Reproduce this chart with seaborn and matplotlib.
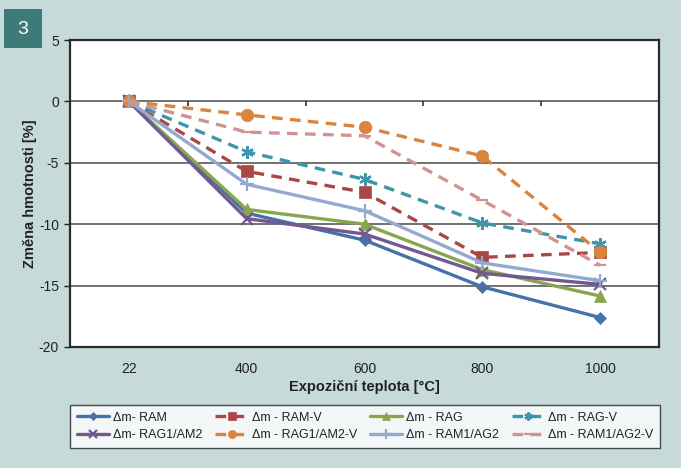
import matplotlib
matplotlib.use("Agg")
import matplotlib.pyplot as plt
from matplotlib.patches import Rectangle
import numpy as np
import pandas as pd
import seaborn as sns

categories = ["22", "400", "600", "800", "1000"]
series_names = ["Δm- RAM", "Δm - RAM-V", "Δm - RAG", "Δm - RAG-V",
                "Δm- RAG1/AM2", "Δm - RAG1/AM2-V", "Δm - RAM1/AG2", "Δm - RAM1/AG2-V"]
ram = [0, -9.1, -11.3, -15.1, -17.6]
ram_v = [0, -5.7, -7.4, -12.7, -12.3]
rag = [0, -8.8, -10.0, -13.7, -15.85]
rag_v = [0, -4.1, -6.35, -9.9, -11.6]
rag1am2 = [0, -9.55, -10.8, -14.0, -14.9]
rag1am2_v = [0, -1.1, -2.1, -4.45, -12.3]
ram1ag2 = [0, -6.75, -8.9, -13.15, -14.6]
ram1ag2_v = [0, -2.5, -2.8, -8.05, -13.35]
values = [ram, ram_v, rag, rag_v, rag1am2, rag1am2_v, ram1ag2, ram1ag2_v]
yticks = [-20, -15, -10, -5, 0, 5]

colors = ["#4572A7", "#AA4643", "#89A54E", "#3D96AE",
          "#71588F", "#DB843D", "#93A9CF", "#D19392"]
markers = ["D", "s", "^", (6, 2, 0), "x", "o", "+", "_"]
msizes = [6.5, 8, 8, 9, 8, 9, 10, 8]
dashed = [False, True, False, True, False, True, False, True]

sns.set_theme(style="white")
plt.rcParams["font.family"] = ["Liberation Sans", "DejaVu Sans"]

bg = "#C6DAD9"
fig = plt.figure(figsize=(6.81, 4.68), dpi=100, facecolor=bg)
ax = fig.add_axes([70/681, 1-347/468, 589/681, 307/468])
ax.set_facecolor("white")

pos = np.arange(len(categories))
handles = []
for name, vals, c, m, ms, d in zip(series_names, values, colors, markers, msizes, dashed):
    df = pd.DataFrame({"x": pos, "y": vals})
    sns.lineplot(data=df, x="x", y="y", ax=ax, color=c, marker=m, markersize=ms,
                 markeredgecolor=c, markerfacecolor=c,
                 markeredgewidth=1.6 if m in ["x", "+", "_", (6, 2, 0)] else 0.5,
                 linewidth=2.4, linestyle=(0, (3.2, 2.2)) if d else "-",
                 label=name, legend=False, zorder=3)
    handles.append(ax.lines[-1])

ax.set_xlim(-0.5, len(categories) - 0.5)
ax.set_ylim(yticks[0], yticks[-1])
ax.set_yticks(yticks)
ax.set_yticklabels([str(t) for t in yticks])
ax.set_xticks(pos)
ax.set_xticklabels(categories)
ax.yaxis.grid(True, color="#4a4a4a", linewidth=1.1, zorder=1)
ax.set_axisbelow(True)
for s in ax.spines.values():
    s.set_visible(True)
    s.set_color("#2a2a2a")
    s.set_linewidth(1.6)
ax.tick_params(axis="x", length=0, pad=11, labelsize=10, colors="#222222")
ax.tick_params(axis="y", length=4, width=1, direction="out", left=True, pad=4,
               labelsize=10, colors="#222222")
ax.set_xlabel("Expoziční teplota [°C]", fontsize=10.5, fontweight="bold", labelpad=3, color="#222222")
ax.set_ylabel("Změna hmotnosti [%]", fontsize=10.5, fontweight="bold", labelpad=1, color="#222222")

# category boundary ticks hanging below the zero line (Excel-style axis crossing)
ax.vlines(pos[:-1] + 0.5, -0.35, 0, colors="#333333", linewidth=1.2, zorder=2)

order = [0, 4, 1, 5, 2, 6, 3, 7]
leg = fig.legend([handles[i] for i in order], [series_names[i] for i in order],
                 ncol=4, loc="center", mode="expand", borderaxespad=0,
                 bbox_to_anchor=(70/681, 1-450/468, 590/681, 47/468),
                 frameon=True, fancybox=False, fontsize=9, handlelength=2.6,
                 handletextpad=0.3, columnspacing=1.0, labelspacing=0.45,
                 borderpad=0.55, markerscale=0.65)
leg.get_frame().set_edgecolor("#222222")
leg.get_frame().set_linewidth(1.0)
leg.get_frame().set_facecolor("white")
for t in leg.get_texts():
    t.set_color("#222222")

fig.patches.append(Rectangle((4/681, 1-48/468), 38/681, 39/468, transform=fig.transFigure,
                             facecolor="#3D7B79", edgecolor="none", zorder=5))
fig.text(23/681, 1-29/468, "3", color="white", fontsize=14, ha="center", va="center", zorder=6)

fig.savefig("out.png", dpi=100, facecolor=bg)
